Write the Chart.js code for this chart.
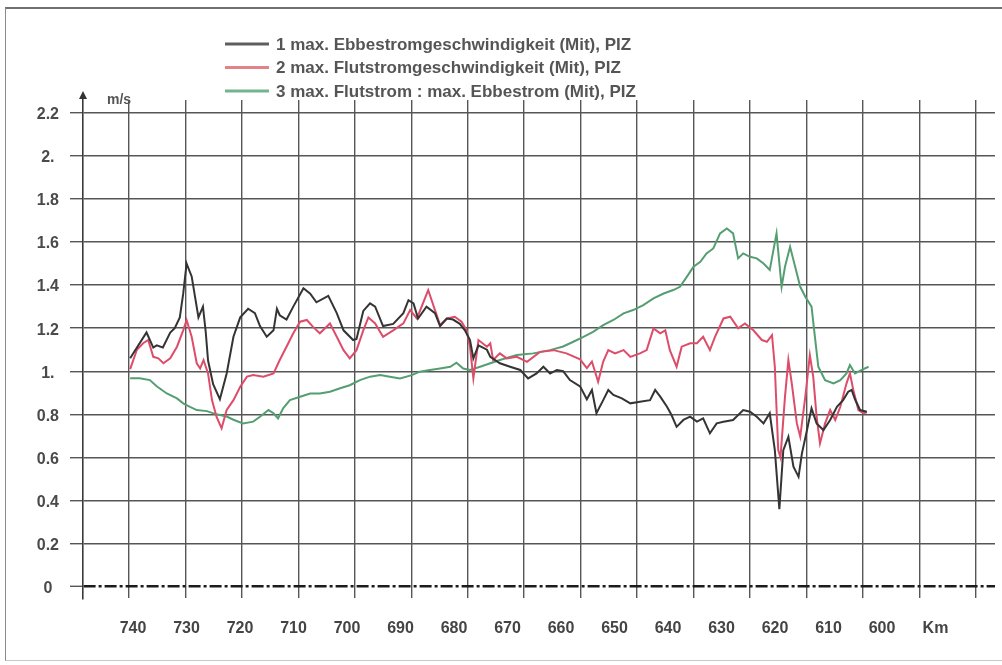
<!DOCTYPE html>
<html>
<head>
<meta charset="utf-8">
<script src="https://cdn.jsdelivr.net/npm/chart.js@4"></script>
<style>
  html, body { margin: 0; padding: 0; background: #fff; }
  #wrap { position: relative; width: 1002px; height: 665px; overflow: hidden; }
  #frame { position: absolute; left: 5px; top: 7px; width: 1000px; height: 654px; box-sizing: border-box;
           border-top: 2px solid #707070; border-left: 1px solid #8a8a8a; border-bottom: 1px solid #c9c9c9; }
  canvas { position: absolute; left: 0; top: 0; }
</style>
</head>
<body>
<div id="wrap">
  <div id="frame"></div>
  <canvas id="chart" width="1002" height="665"></canvas>
</div>
<script>
// Elbe-km positions (river kilometres) and the measured values of each series
const ebbKm = [739.8, 736.9, 735.7, 735.1, 734.0, 732.7, 731.9, 731.0, 730.4, 729.8, 728.9, 727.7, 726.9, 726.4, 726.0,
  725.1, 723.9, 722.7, 721.5, 720.3, 718.9, 717.7, 716.8, 715.6, 714.4, 713.8, 713.3, 712.1, 710.9, 709.1, 707.9,
  706.8, 704.7, 703.2, 702.0, 700.3, 699.7, 698.5, 697.3, 696.4, 695.0, 693.2, 691.4, 690.5, 689.6, 688.8, 687.3,
  685.8, 684.9, 683.7, 682.6, 681.4, 680.5, 679.6, 679.0, 678.1, 676.6, 676.0, 674.3, 672.5, 670.7, 669.3, 667.8,
  666.6, 665.4, 664.2, 663.1, 661.9, 660.1, 658.9, 658.0, 657.2, 656.0, 655.1, 654.2, 652.7, 651.2, 649.5, 647.7,
  646.8, 645.9, 644.7, 643.9, 643.0, 641.8, 640.6, 639.4, 638.3, 637.1, 635.9, 634.7, 633.0, 631.2, 630.0, 628.8,
  627.6, 626.5, 625.6, 624.8, 624.1, 623.2, 622.3, 621.4, 620.8, 619.9, 619.1, 618.2, 617.0, 615.8, 614.6, 613.5,
  612.6, 612.0, 611.4, 610.5, 609.3];
const ebbSpeed = [1.06, 1.18, 1.11, 1.12, 1.11, 1.18, 1.20, 1.25, 1.36, 1.50, 1.44, 1.25, 1.30, 1.18, 1.05,
  0.94, 0.87, 0.99, 1.16, 1.25, 1.29, 1.27, 1.21, 1.16, 1.19, 1.29, 1.26, 1.24, 1.30, 1.385, 1.36,
  1.32, 1.35, 1.27, 1.19, 1.145, 1.15, 1.28, 1.315, 1.30, 1.21, 1.22, 1.27, 1.33, 1.315, 1.245, 1.30,
  1.27, 1.21, 1.245, 1.24, 1.22, 1.19, 1.145, 1.06, 1.12, 1.10, 1.067, 1.037, 1.021, 1.006, 0.967, 0.99,
  1.021, 0.99, 1.006, 1.0, 0.959, 0.93, 0.87, 0.913, 0.805, 0.866, 0.913, 0.89, 0.874, 0.851, 0.858, 0.866,
  0.913, 0.882, 0.835, 0.797, 0.742, 0.774, 0.789, 0.766, 0.781, 0.712, 0.758, 0.766, 0.774, 0.82, 0.812, 0.789,
  0.758, 0.805, 0.634, 0.36, 0.634, 0.696, 0.557, 0.51, 0.619, 0.727, 0.828, 0.758, 0.727, 0.774, 0.835, 0.866,
  0.905, 0.913, 0.87, 0.82, 0.812];

const floodKm = [739.8, 738.6, 737.5, 736.6, 735.7, 734.8, 733.9, 732.7, 731.5, 730.4, 729.8, 728.9, 728.0, 727.4,
  726.8, 726.0, 725.3, 724.5, 723.6, 722.7, 721.5, 720.3, 719.1, 718.0, 716.2, 714.4, 713.3, 712.1, 710.9, 709.7,
  708.5, 707.4, 706.2, 704.4, 703.2, 702.0, 700.9, 699.7, 698.5, 697.6, 696.4, 695.0, 693.2, 691.4, 690.2, 689.0,
  687.0, 685.8, 684.9, 683.7, 682.3, 681.1, 680.2, 679.6, 679.0, 678.1, 676.6, 676.0, 675.5, 674.3, 673.1, 671.3,
  669.5, 667.2, 664.8, 662.5, 660.1, 658.9, 658.0, 656.9, 656.0, 655.1, 653.9, 652.4, 651.2, 649.5, 648.3, 647.1,
  645.9, 645.0, 644.2, 643.0, 642.1, 640.6, 639.4, 638.3, 637.1, 636.2, 634.7, 633.5, 632.1, 630.9, 629.4, 627.9,
  627.0, 626.1, 625.6, 625.0, 624.6, 623.8, 623.2, 622.6, 621.7, 621.1, 620.2, 619.4, 618.8, 618.2, 617.6, 616.7,
  615.8, 614.9, 614.0, 612.9, 612.3, 611.7, 610.8, 609.9, 609.3];
const floodSpeed = [1.01, 1.10, 1.13, 1.145, 1.067, 1.06, 1.037, 1.06, 1.114, 1.19, 1.238, 1.16, 1.037, 1.013,
  1.052, 0.99, 0.866, 0.789, 0.735, 0.82, 0.866, 0.928, 0.975, 0.982, 0.975, 0.99, 1.052, 1.114, 1.176, 1.23,
  1.238, 1.206, 1.176, 1.222, 1.16, 1.098, 1.06, 1.098, 1.19, 1.25, 1.222, 1.16, 1.19, 1.222, 1.284, 1.245,
  1.377, 1.284, 1.214, 1.245, 1.253, 1.23, 1.19, 1.114, 0.967, 1.145, 1.114, 1.13, 1.052, 1.083, 1.06, 1.067,
  1.044, 1.09, 1.098, 1.083, 1.055, 1.015, 1.045, 0.951, 1.045, 1.098, 1.083, 1.098, 1.067, 1.083, 1.098, 1.199,
  1.176, 1.19, 1.098, 1.021, 1.114, 1.13, 1.13, 1.16, 1.098, 1.16, 1.245, 1.253, 1.199, 1.222, 1.19, 1.145,
  1.137, 1.168, 1.021, 0.634, 0.60, 0.882, 1.052, 0.944, 0.758, 0.696, 0.882, 1.075, 0.975, 0.789, 0.665, 0.758,
  0.82, 0.774, 0.835, 0.944, 0.99, 0.913, 0.82, 0.805, 0.81];

const ratioKm = [739.8, 738.1, 736.3, 735.1, 733.3, 731.5, 730.4, 729.2, 728.0, 726.2, 724.5, 722.7, 721.5, 719.8,
  718.0, 716.8, 715.3, 714.4, 713.6, 712.7, 711.5, 709.7, 707.9, 706.2, 704.4, 702.6, 700.9, 699.1, 697.3, 695.5,
  693.8, 692.0, 689.9, 688.5, 686.7, 684.9, 683.1, 682.0, 680.8, 679.6, 677.8, 676.0, 674.3, 671.3, 668.4, 665.4,
  663.1, 661.3, 659.5, 657.8, 656.0, 654.2, 652.4, 650.7, 648.9, 647.1, 645.3, 643.6, 642.4, 641.2, 640.0, 638.8,
  637.7, 636.5, 635.3, 634.1, 633.0, 632.1, 631.2, 630.0, 628.8, 627.6, 626.5, 625.3, 624.4, 623.8, 622.9, 622.0,
  621.1, 620.2, 619.1, 618.5, 617.9, 616.7, 615.2, 614.0, 612.9, 612.3, 611.4, 610.2, 609.0];
const ratioValue = [0.967, 0.967, 0.959, 0.93, 0.897, 0.874, 0.851, 0.835, 0.82, 0.815, 0.80, 0.79, 0.775, 0.758,
  0.766, 0.789, 0.82, 0.805, 0.781, 0.828, 0.866, 0.882, 0.897, 0.897, 0.905, 0.921, 0.935, 0.959, 0.975, 0.982,
  0.975, 0.967, 0.982, 0.998, 1.006, 1.013, 1.021, 1.04, 1.013, 1.006, 1.021, 1.037, 1.052, 1.075, 1.083, 1.098,
  1.115, 1.137, 1.16, 1.183, 1.214, 1.238, 1.269, 1.284, 1.307, 1.338, 1.361, 1.377, 1.392, 1.438, 1.485, 1.508,
  1.547, 1.57, 1.64, 1.663, 1.64, 1.524, 1.547, 1.531, 1.524, 1.50, 1.47, 1.64, 1.392, 1.485, 1.578, 1.485,
  1.392, 1.346, 1.30, 1.16, 1.021, 0.959, 0.944, 0.959, 0.99, 1.029, 0.99, 1.006, 1.021];

const seriesLabels = [
  '1 max. Ebbestromgeschwindigkeit (Mit), PIZ',
  '2 max. Flutstromgeschwindigkeit (Mit), PIZ',
  '3 max. Flutstrom : max. Ebbestrom (Mit), PIZ'
];

// axis ticks
const kmLabelValues = [740, 730, 720, 710, 700, 690, 680, 670, 660, 650, 640, 630, 620, 610, 600, 590];
const kmLabels = ['740', '730', '720', '710', '700', '690', '680', '670', '660', '650', '640', '630', '620', '610', '600', 'Km'];
const kmGridValues = [740, 730, 720, 710, 700, 690, 680, 670, 660, 650, 640, 630, 620, 610, 600, 590];
const yTickValues = [0, 0.2, 0.4, 0.6, 0.8, 1.0, 1.2, 1.4, 1.6, 1.8, 2.0, 2.2];
const yTickLabels = ['0', '0.2', '0.4', '0.6', '0.8', '1.', '1.2', '1.4', '1.6', '1.8', '2.', '2.2'];
const yUnit = 'm/s';

const FONT = '"Liberation Sans", Arial, sans-serif';
const GRID = '#565656';

function points(km, vals) { return km.map((k, i) => ({ x: k, y: vals[i] })); }

// legend drawn as three stacked rows above the plot
const stackedLegend = {
  id: 'stackedLegend',
  afterDraw(chart, args, o) {
    const ctx = chart.ctx;
    ctx.save();
    ctx.font = o.font;
    ctx.textBaseline = 'middle';
    chart.data.datasets.forEach((ds, i) => {
      const y = o.top + i * o.rowHeight;
      ctx.strokeStyle = ds.legendColor || ds.borderColor;
      ctx.lineWidth = o.lineWidth;
      ctx.beginPath();
      ctx.moveTo(o.left, y);
      ctx.lineTo(o.left + o.sampleWidth, y);
      ctx.stroke();
      ctx.fillStyle = o.color;
      ctx.fillText(ds.label, o.left + o.sampleWidth + o.gap, y + 1);
    });
    ctx.restore();
  }
};

// arrow head on the value axis and its unit
const axisArrow = {
  id: 'axisArrow',
  afterDraw(chart) {
    const { ctx, chartArea } = chart;
    const x = chartArea.left;
    const top = chartArea.top;
    ctx.save();
    ctx.fillStyle = '#333';
    ctx.beginPath();
    ctx.moveTo(x, top - 9);
    ctx.lineTo(x - 4, top - 1);
    ctx.lineTo(x + 4, top - 1);
    ctx.closePath();
    ctx.fill();
    ctx.font = 'bold 14px ' + FONT;
    ctx.fillStyle = '#555';
    ctx.textBaseline = 'middle';
    ctx.fillText(yUnit, x + 24, top);
    ctx.restore();
  }
};

new Chart(document.getElementById('chart'), {
  type: 'line',
  data: {
    datasets: [
      { label: seriesLabels[0], data: points(ebbKm, ebbSpeed), borderColor: '#343434', legendColor: '#5e5e5e', borderWidth: 2 },
      { label: seriesLabels[1], data: points(floodKm, floodSpeed), borderColor: '#dd4d6a', legendColor: '#e2838a', borderWidth: 2 },
      { label: seriesLabels[2], data: points(ratioKm, ratioValue), borderColor: '#559e72', legendColor: '#73b491', borderWidth: 2 }
    ]
  },
  options: {
    responsive: false,
    animation: false,
    parsing: false,
    layout: { padding: { left: 0, right: 7, top: 100, bottom: 0 } },
    elements: { point: { radius: 0 }, line: { tension: 0 } },
    plugins: {
      legend: { display: false },
      tooltip: { enabled: false },
      stackedLegend: {
        left: 225, top: 44, rowHeight: 23.5, sampleWidth: 44, gap: 7, lineWidth: 3,
        font: 'bold 17px ' + FONT, color: '#555'
      }
    },
    scales: {
      x: {
        type: 'linear', position: 'bottom', reverse: true,
        min: 586.6, max: 748.15,
        afterBuildTicks: s => { s.ticks = kmGridValues.map(v => ({ value: v })); },
        afterFit: s => { s.height = 0; },
        ticks: { display: false },
        grid: { color: GRID, lineWidth: 1.4, drawTicks: false },
        border: { display: false }
      },
      xLab: {
        axis: 'x', type: 'linear', position: 'bottom', reverse: true,
        min: 578.88, max: 749.35,
        afterBuildTicks: s => { s.ticks = kmLabelValues.map(v => ({ value: v })); },
        afterFit: s => { s.height = 67; },
        ticks: {
          autoSkip: false, maxRotation: 0, padding: 13, color: '#444',
          font: { family: FONT, size: 16, weight: 'bold' },
          callback: v => kmLabels[kmLabelValues.indexOf(v)]
        },
        grid: { display: false },
        border: { display: false }
      },
      y: {
        type: 'linear', position: 'left',
        min: -0.0524, max: 2.259,
        afterBuildTicks: s => { s.ticks = yTickValues.map(v => ({ value: v })); },
        afterFit: s => { s.width = 83; },
        ticks: {
          padding: 11, crossAlign: 'center', labelOffset: 2, color: '#4a4a4a',
          font: { family: FONT, size: 16, weight: 'bold' },
          callback: (v, i) => yTickLabels[i]
        },
        grid: {
          color: c => (c.tick && c.tick.value === 0) ? '#1c1c1c' : GRID,
          lineWidth: c => (c.tick && c.tick.value === 0) ? 2.6 : 1.4,
          tickColor: GRID, tickLength: 13, tickWidth: 1.4
        },
        border: {
          display: true, color: '#3a3a3a', width: 1.6,
          dash: c => (c.type === 'tick' && c.tick && c.tick.value === 0) ? [12, 3, 3, 3] : []
        }
      }
    }
  },
  plugins: [stackedLegend, axisArrow]
});
</script>
</body>
</html>
